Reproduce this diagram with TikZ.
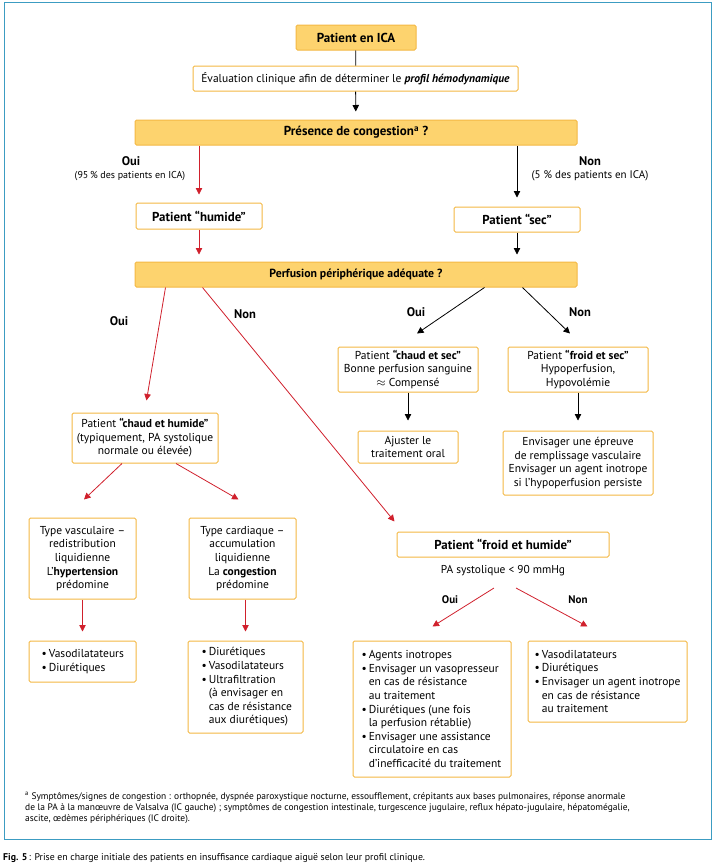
\documentclass[tikz,border=0pt]{standalone}
\usepackage{fontspec}
\setmainfont{PT Sans}
\usetikzlibrary{arrows.meta,calc}
\definecolor{yel}{HTML}{FDD36E}
\definecolor{bord}{HTML}{F4B843}
\definecolor{redc}{HTML}{D0202C}
\definecolor{framec}{HTML}{3C9CC2}
\newcommand{\myfs}[2]{\fontsize{#1}{#2}\selectfont}
\newcommand{\bu}{\textbullet\,}
\newcommand{\nb}{\phantom{\textbullet\,}}
\begin{document}
\begin{tikzpicture}[x=1pt,y=-1pt,
  box/.style={draw=bord, line width=1pt, rounded corners=1.5pt, inner sep=1pt, align=center},
  fbox/.style={box, fill=yel, font=\bfseries\myfs{13}{14}},
  wbox/.style={box, fill=white, font=\myfs{11.5}{13.6}},
  hbox/.style={box, fill=white, font=\bfseries\myfs{12.9}{14}},
  lab/.style={font=\bfseries\myfs{12.5}{14}, inner sep=0pt},
  txt/.style={inner sep=0pt, align=left, font=\myfs{11.5}{13.6}},
  arr/.style={line width=0.8pt, -{Triangle[width=6.5pt,length=6.5pt]}},
  blk/.style={arr, black},
  rd/.style={arr, redc},
]
\useasboundingbox (0,0) rectangle (716,868);
\draw[framec, line width=0.9pt] (4,2) rectangle (711,839);

% top
\node[fbox, minimum width=120pt, minimum height=25pt] (ica) at (356,37.5) {Patient en ICA};
\node[wbox, minimum width=325pt, minimum height=25pt, font=\myfs{11.5}{13}] (eval) at (355.5,78.5)
  {Évaluation clinique afin de déterminer le \textbf{\textit{profil hémodynamique}}};
\node[fbox, minimum width=442pt, minimum height=25pt] (cong) at (356,132.5) {Présence de congestion\textsuperscript{a} ?};

\node[lab] (oui1) at (131,161) {Oui};
\node[inner sep=0pt, font=\myfs{10}{11}] (p95) at (130,176) {(95\,\% des patients en ICA)};
\node[lab] (non1) at (590,161) {Non};
\node[inner sep=0pt, font=\myfs{11}{12}] (p5) at (590,176) {(5 \% des patients en ICA)};

\node[hbox, minimum width=126pt, minimum height=26pt] (hum) at (199,216) {Patient “humide”};
\node[hbox, minimum width=126pt, minimum height=25pt] (sec) at (517,219.5) {Patient “sec”};

\node[fbox, minimum width=442pt, minimum height=25pt, font=\bfseries\myfs{11.8}{13}] (perf) at (356,274.5) {Perfusion périphérique adéquate ?};

\draw[line width=0.8pt] (ica) -- (eval);
\draw[blk, shorten >=8pt] (eval) -- (cong);
\draw[rd, shorten >=8pt] (cong.south -| hum.north) -- (hum.north);
\draw[blk, shorten >=9pt] (cong.south -| sec.north) -- (sec.north);
\draw[rd, shorten >=7pt] (hum) -- (perf.north -| hum);
\draw[blk, shorten >=7pt] (sec) -- (perf.north -| sec);

% perfusion branches
\node[lab] (oui2) at (119,321) {Oui};
\node[lab] (non2) at (245,314) {Non};
\node[lab] (oui3) at (416,312) {Oui};
\node[lab] (non3) at (580,312) {Non};

\node[wbox, minimum width=140pt, minimum height=45pt] (cs) at (408,369.5)
  {Patient \textbf{“chaud et sec”}\\Bonne perfusion sanguine\\$\approx$ Compensé};
\node[wbox, minimum width=140pt, minimum height=45pt] (fs) at (578,369.5)
  {Patient \textbf{“froid et sec”}\\Hypoperfusion,\\Hypovolémie};
\node[wbox, minimum width=100pt, minimum height=32pt] (adj) at (408,447) {Ajuster le\\traitement oral};
\node[wbox, minimum width=150pt, minimum height=64pt] (env) at (578,463)
  {Envisager une épreuve\\de remplissage vasculaire\\Envisager un agent inotrope\\si l’hypoperfusion persiste};

\node[wbox, minimum width=146pt, minimum height=50pt] (ch) at (145,438)
  {Patient \textbf{“chaud et humide”}\\(typiquement, PA systolique\\normale ou élevée)};

\node[wbox, minimum width=107pt, minimum height=81pt] (tv) at (82.5,558.5)
  {Type vasculaire –\\redistribution\\liquidienne\\L’\textbf{hypertension}\\prédomine};
\node[wbox, minimum width=107pt, minimum height=81pt] (tc) at (242.5,558.5)
  {Type cardiaque –\\accumulation\\liquidienne\\La \textbf{congestion}\\prédomine};

\node[box, fill=white, minimum width=107pt, minimum height=41pt] (vd) at (82.5,661.5) {};
\node[txt, anchor=west] (vdt) at ($(vd.west)+(13,0)$) {\bu Vasodilatateurs\\\bu Diurétiques};
\node[box, fill=white, minimum width=115pt, minimum height=92pt] (di) at (245.5,687) {};
\node[txt, anchor=west] (dit) at ($(di.west)+(14,0)$)
  {\bu Diurétiques\\\bu Vasodilatateurs\\\bu Ultrafiltration\\\nb(à envisager en\\\nb cas de résistance\\\nb aux diurétiques)};

\node[hbox, minimum width=212pt, minimum height=25pt] (fh) at (503,544.5) {Patient “froid et humide”};
\node[inner sep=0pt, font=\myfs{11.4}{12}] (pa) at (503,571) {PA systolique < 90 mmHg};
\node[lab, font=\bfseries\myfs{11}{12}] (oui4) at (450,600) {Oui};
\node[lab, font=\bfseries\myfs{11}{12}] (non4) at (578,600) {Non};

\node[box, fill=white, minimum width=158pt, minimum height=136pt] (ai) at (432,709) {};
\node[txt, anchor=west] (ait) at ($(ai.west)+(9,0)$)
  {\bu Agents inotropes\\\bu Envisager un vasopresseur\\\nb en cas de résistance\\\nb au traitement\\\bu Diurétiques (une fois\\\nb la perfusion rétablie)\\\bu Envisager une assistance\\\nb circulatoire en cas\\\nb d’inefficacité du traitement};
\node[box, fill=white, minimum width=159pt, minimum height=81pt] (vr) at (607.5,681.5) {};
\node[txt, anchor=west] (vrt) at ($(vr.west)+(7,0)$)
  {\bu Vasodilatateurs\\\bu Diurétiques\\\bu Envisager un agent inotrope\\\nb en cas de résistance\\\nb au traitement};

% connectors
\draw[rd] ($(perf.south west)+(31,0)$) -- ($(ch.north)+(1.5,-12)$);
\draw[rd] ($(perf.south west)+(68,0)$) -- ($(fh.north west)+(-2,-10)$);
\draw[blk] ($(perf.south west)+(350,0)$) -- ($(cs.north)+(9,-13)$);
\draw[blk] ($(perf.south west)+(388,0)$) -- ($(fs.north)+(-8,-13)$);
\draw[blk] (cs.south) -- ($(adj.north)+(0,-10)$);
\draw[blk] (fs.south) -- ($(env.north)+(0,-10)$);
\draw[rd] ($(ch.south)+(-23,0)$) -- ($(tv.north)+(1.5,-18)$);
\draw[rd] ($(ch.south)+(31,0)$) -- ($(tc.north)+(-4,-18)$);
\draw[rd] (tv.south) -- ($(vd.north)+(0,-9)$);
\draw[rd] (tc.south -| di.north) -- ($(di.north)+(0,-9)$);
\draw[rd] ($(pa.center)+(-9,17)$) -- ($(ai.north)+(0.5,-14)$);
\draw[rd] ($(pa.center)+(13,17)$) -- ($(vr.north)+(-20,-14)$);

% footnote and caption
\node[inner sep=0pt, anchor=north west, align=left, font=\myfs{9.45}{11}] (foot) at (25,792)
  {\textsuperscript{a} Symptômes/signes de congestion : orthopnée, dyspnée paroxystique nocturne, essoufflement, crépitants aux bases pulmonaires, réponse anormale\\
   de la PA à la manœuvre de Valsalva (IC gauche) ; symptômes de congestion intestinale, turgescence jugulaire, reflux hépato-jugulaire, hépatomégalie,\\
   ascite, œdèmes périphériques (IC droite).};
\node[inner sep=0pt, anchor=west, font=\myfs{9.8}{11}] (cap) at (3,858)
  {\textbf{Fig. 5}\,: Prise en charge initiale des patients en insuffisance cardiaque aiguë selon leur profil clinique.};
\end{tikzpicture}
\end{document}
